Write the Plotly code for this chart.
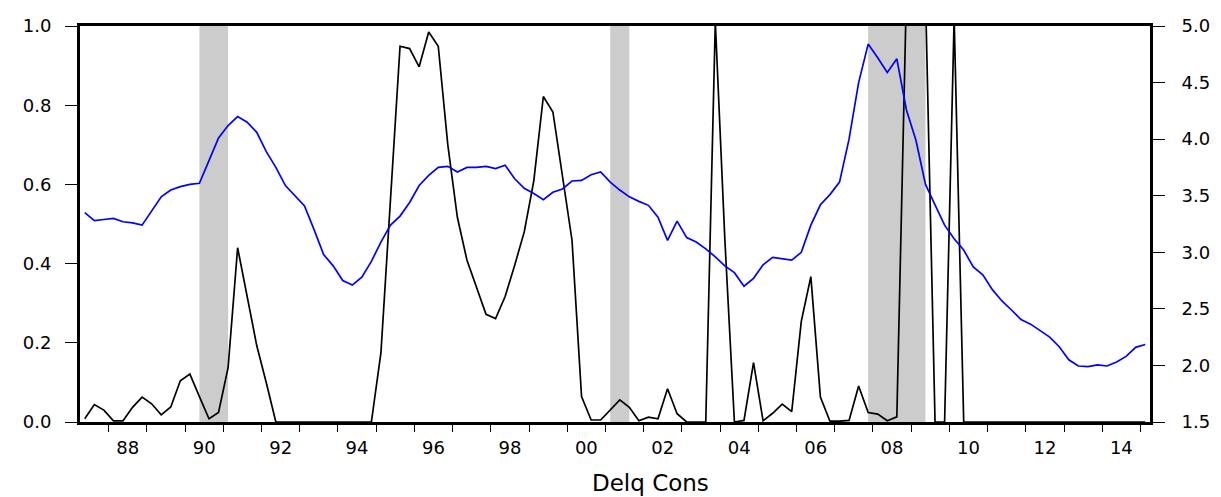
import plotly.graph_objects as go

# Quarterly observations, 1987Q2 through 2015Q1
start_year, start_q = 1987, 2

# Delinquency probability (left axis)
delq = [
    0.008, 0.044, 0.030, 0.003, 0.003, 0.037, 0.063, 0.046, 0.018, 0.038,
    0.104, 0.121, 0.064, 0.008, 0.024, 0.137, 0.440, 0.317, 0.193, 0.099,
    0.0, 0.0, 0.0, 0.0, 0.0, 0.0, 0.0, 0.0, 0.0, 0.0,
    0.0, 0.175, 0.570, 0.949, 0.943, 0.897, 0.985, 0.949, 0.700, 0.517,
    0.409, 0.342, 0.272, 0.261, 0.317, 0.396, 0.480, 0.609, 0.822, 0.783,
    0.617, 0.459, 0.064, 0.005, 0.005, 0.031, 0.056, 0.037, 0.003, 0.012,
    0.008, 0.084, 0.021, 0.0, 0.0, 0.0, 1.01, 0.460, 0.0, 0.004,
    0.150, 0.003, 0.022, 0.045, 0.026, 0.254, 0.367, 0.063, 0.002, 0.002,
    0.004, 0.091, 0.024, 0.020, 0.003, 0.013, 1.08, 1.60, 1.08, 0.0,
    0.0, 1.02, 0.0, 0.0, 0.0, 0.0, 0.0, 0.0, 0.0, 0.0,
    0.0, 0.0, 0.0, 0.0, 0.0, 0.0, 0.0, 0.0, 0.0, 0.0,
    0.0, 0.0,
]

# Consumer delinquency rate (right axis)
cons = [
    3.35, 3.28, 3.29, 3.30, 3.27, 3.26, 3.24, 3.36, 3.49, 3.55,
    3.58, 3.60, 3.61, 3.81, 4.01, 4.12, 4.20, 4.15, 4.06, 3.89,
    3.75, 3.59, 3.50, 3.41, 3.20, 2.98, 2.88, 2.75, 2.71, 2.78,
    2.92, 3.09, 3.24, 3.32, 3.44, 3.59, 3.68, 3.75, 3.76, 3.71,
    3.75, 3.75, 3.76, 3.74, 3.77, 3.65, 3.565, 3.52, 3.465, 3.53,
    3.56, 3.63, 3.635, 3.685, 3.71, 3.62, 3.55, 3.49, 3.45, 3.415,
    3.31, 3.105, 3.275, 3.13, 3.09, 3.03, 2.96, 2.88, 2.82, 2.70,
    2.77, 2.89, 2.955, 2.945, 2.93, 3.00, 3.24, 3.42, 3.51, 3.62,
    4.00, 4.50, 4.84, 4.72, 4.59, 4.71, 4.26, 3.99, 3.60, 3.42,
    3.24, 3.12, 3.02, 2.87, 2.80, 2.67, 2.57, 2.49, 2.405, 2.365,
    2.31, 2.25, 2.165, 2.05, 1.995, 1.99, 2.005, 1.995, 2.03, 2.08,
    2.16, 2.185,
]

# Recession periods (first and last quarter)
recessions = [("1990Q2", "1991Q1"), ("2001Q1", "2001Q3"), ("2007Q4", "2009Q2")]

# Year tick labels shown under the axis
label_years = list(range(1988, 2015, 2))
year_labels = [f"{y % 100:02d}" for y in label_years]


def quarter_pos(label):
    """Fractional-year position of a quarter's midpoint."""
    year, q = int(label[:4]), int(label[-1])
    return year + (q - 1) / 4 + 0.125


quarters = []
for k in range(len(delq)):
    n = start_q - 1 + k
    quarters.append(f"{start_year + n // 4}Q{n % 4 + 1}")
xs = [quarter_pos(q) for q in quarters]

fig = go.Figure()

for a, b in recessions:
    fig.add_shape(
        type="rect", xref="x", yref="paper",
        x0=quarter_pos(a), x1=quarter_pos(b), y0=0, y1=1,
        fillcolor="#cccccc", line=dict(width=0), layer="below",
    )

fig.add_trace(go.Scatter(
    x=xs, y=cons, mode="lines", yaxis="y2", name="Cons",
    line=dict(color="#0000ff", width=1.7), hoverinfo="skip",
))
fig.add_trace(go.Scatter(
    x=xs, y=delq, mode="lines", yaxis="y", name="Delq",
    line=dict(color="#000000", width=1.7), hoverinfo="skip",
))

font_family = "DejaVu Sans"

fig.update_layout(
    width=1221, height=497,
    margin=dict(l=80, r=71, t=26, b=75, autoexpand=False),
    plot_bgcolor="white", paper_bgcolor="white",
    showlegend=False,
    font=dict(family=font_family, size=18, color="black"),
    xaxis=dict(
        range=[1987.25, 2015.25],
        automargin=False,
        tickmode="array",
        tickvals=[y + 0.5 for y in label_years],
        ticktext=year_labels,
        ticks="",
        ticklabelstandoff=7,
        showline=True, linewidth=3, linecolor="black", mirror=True,
        showgrid=False, zeroline=False,
        minor=dict(
            tickmode="array", tickvals=list(range(1988, 2016)),
            ticks="outside", ticklen=7, tickwidth=1, tickcolor="black",
            showgrid=False,
        ),
    ),
    yaxis=dict(
        range=[0, 1],
        automargin=False,
        tickmode="array",
        tickvals=[0, 0.2, 0.4, 0.6, 0.8, 1.0],
        tickformat=".1f",
        ticks="outside", ticklen=12, tickwidth=1, tickcolor="black",
        ticklabelstandoff=10,
        showline=True, linewidth=3, linecolor="black",
        showgrid=False, zeroline=False,
    ),
    yaxis2=dict(
        range=[1.5, 5.0],
        automargin=False,
        overlaying="y", side="right",
        tickmode="array",
        tickvals=[1.5, 2.0, 2.5, 3.0, 3.5, 4.0, 4.5, 5.0],
        tickformat=".1f",
        ticks="outside", ticklen=12, tickwidth=1, tickcolor="black",
        ticklabelstandoff=13,
        showline=True, linewidth=3, linecolor="black",
        showgrid=False, zeroline=False,
    ),
    annotations=[dict(
        text="Delq Cons", xref="paper", yref="paper",
        x=(650 - 80) / 1070, y=-0.155, xanchor="center", yanchor="middle",
        showarrow=False, font=dict(family=font_family, size=23, color="black"),
    )],
)

fig.write_html("out.html")
